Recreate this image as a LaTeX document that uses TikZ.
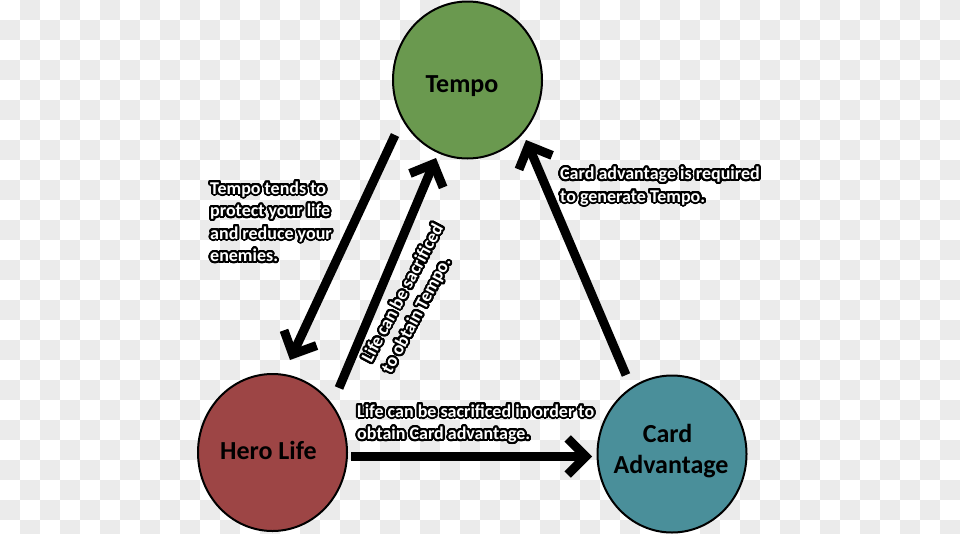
\documentclass[tikz,border=0pt]{standalone}
\usepackage{fontspec}
\setmainfont{Carlito}
\usepackage{contour}
\contourlength{2pt}
\contournumber{32}
\usetikzlibrary{shapes.geometric,arrows.meta}
\definecolor{bgg}{HTML}{EBEBEB}
\definecolor{tempoc}{HTML}{6A994F}
\definecolor{heroc}{HTML}{9D4545}
\definecolor{cardc}{HTML}{4A8F9A}
\newcommand{\ol}[1]{\contour{black}{\textcolor{white}{\bfseries #1}}}
\tikzset{
  circ/.style={ellipse, draw=black, line width=2pt, inner sep=0pt,
    minimum width=149pt, minimum height=157pt},
  ctext/.style={font=\fontsize{26}{31}\selectfont\bfseries, inner sep=0pt, anchor=base},
  bigarrow/.style={line width=9pt, -{Straight Barb[length=18pt,width=36pt]}},
  lbl/.style={font=\fontsize{18}{22.5}\selectfont\bfseries, align=left, inner sep=0pt}
}
\begin{document}
\begin{tikzpicture}[x=1pt,y=-1pt]
\useasboundingbox (0,0) rectangle (960,533);
\begin{scope}
\clip (0,0) rectangle (960,533);
\fill[white] (0,0) rectangle (960,533);
\foreach \i in {0,...,47} {
  \foreach \j in {0,...,26} {
    \pgfmathtruncatemacro{\odd}{mod(\i+\j,2)}
    \ifnum\odd=1 \fill[bgg] (\i*20,\j*20) rectangle ++(20,20); \fi
  }
}
\end{scope}

\node[circ, fill=tempoc] (tempo) at (467.5,80) {};
\node[circ, fill=heroc] (hero) at (272.5,452.5) {};
\node[circ, fill=cardc] (card) at (672,454) {};
\node[ctext] (tempot) at (462,92) {Tempo};
\node[ctext] (herot) at (268.5,459) {Hero Life};
\node[ctext] (cardt1) at (667.5,442) {Card};
\node[ctext] (cardt2) at (671,473) {Advantage};

\coordinate (a1s) at (395,135);
\coordinate (a1e) at (290,360);
\coordinate (a2s) at (339,388);
\coordinate (a2e) at (436,158);
\coordinate (a3s) at (626,375);
\coordinate (a3e) at (526,140);
\coordinate (a4s) at (351,456.5);
\coordinate (a4e) at (592,456.5);

\draw[bigarrow] (a1s) -- (a1e);
\draw[bigarrow] (a2s) -- (a2e);
\draw[bigarrow] (a3s) -- (a3e);
\draw[bigarrow] (a4s) -- (a4e);

\node[lbl, anchor=base west] (l1) at (210,261.5) {\ol{Tempo tends to}\\\ol{protect your life}\\\ol{and reduce your}\\\ol{enemies.}};
\node[lbl, anchor=base west] (l2) at (560,202) {\ol{Card advantage is required}\\\ol{to generate Tempo.}};
\node[lbl, anchor=base west] (l3) at (357,439.5) {\ol{Life can be sacrificed in order to}\\\ol{obtain Card advantage.}};
\node[lbl, rotate=62] (l4) at (414,299) {\ol{Life can be sacrificed}\\\ol{to obtain Tempo.}};
\end{tikzpicture}
\end{document}
